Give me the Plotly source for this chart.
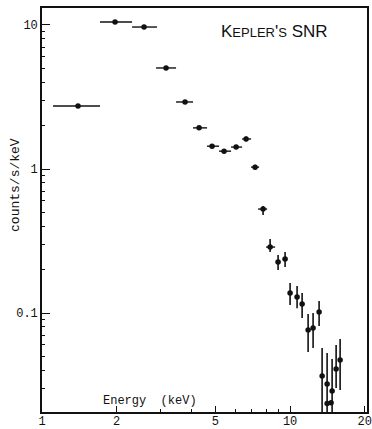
import plotly.graph_objects as go

# ---- data ----
energy = [1.397, 1.970, 2.578, 3.162, 3.772, 4.297, 4.848, 5.418, 6.059, 6.647,
          7.226, 7.783, 8.308, 8.945, 9.546, 10.00, 10.67, 11.18, 11.82, 12.38,
          13.09, 13.46, 14.10, 14.77, 15.33, 15.91, 14.10, 14.63]
energy_lo = [1.108, 1.713, 2.307, 2.882, 3.470, 4.063, 4.627, 5.172, 5.782, 6.405,
             6.963, 7.43, 8.003, 8.75, 9.33, 9.85, 10.50, 11.0, 11.65, 12.2,
             12.9, 13.35, 14.0, 14.65, 15.2, 15.8, 14.0, 14.5]
energy_hi = [1.713, 2.307, 2.909, 3.470, 4.063, 4.627, 5.172, 5.782, 6.405, 6.963,
             7.499, 8.08, 8.70, 9.15, 9.76, 10.15, 10.85, 11.35, 12.0, 12.55,
             13.3, 13.6, 14.2, 14.9, 15.45, 16.05, 14.2, 14.75]
rate = [2.74, 10.5, 9.68, 5.03, 2.92, 1.93, 1.44, 1.33, 1.42, 1.616,
        1.03, 0.527, 0.287, 0.226, 0.237, 0.1377, 0.129, 0.1155, 0.0762, 0.0787,
        0.1016, 0.0365, 0.0321, 0.0287, 0.0408, 0.0472, 0.0235, 0.0238]
rate_lo = [2.74, 10.5, 9.68, 5.03, 2.92, 1.93, 1.40, 1.30, 1.38, 1.56,
           0.99, 0.48, 0.265, 0.199, 0.209, 0.1137, 0.108, 0.0923, 0.0536, 0.0572,
           0.0813, 0.015, 0.015, 0.015, 0.0301, 0.0292, 0.0235, 0.0238]
rate_hi = [2.74, 10.5, 9.68, 5.03, 2.92, 1.93, 1.48, 1.36, 1.46, 1.68,
           1.07, 0.553, 0.326, 0.253, 0.265, 0.1616, 0.154, 0.1377, 0.0984, 0.1,
           0.121, 0.0572, 0.0528, 0.048, 0.06, 0.066, 0.0235, 0.0238]

x_ticks = [1, 2, 5, 10, 20]
x_tick_labels = ["1", "2", "5", "10", "20"]
y_ticks = [0.1, 1, 10]
y_tick_labels = ["0.1", "1", "10"]
x_minor = [3, 4, 6, 7, 8, 9]
y_minor = [m * d for d in (0.01, 0.1, 1) for m in range(2, 10)]

ink = "#111111"
mono = "Liberation Mono, DejaVu Sans Mono, monospace"

fig = go.Figure()
fig.add_trace(go.Scatter(
    x=energy, y=rate, mode="markers",
    marker=dict(color=ink, size=5.5),
    error_x=dict(type="data", symmetric=False,
                 array=[h - v for h, v in zip(energy_hi, energy)],
                 arrayminus=[v - l for v, l in zip(energy, energy_lo)],
                 color=ink, thickness=1.4, width=0),
    error_y=dict(type="data", symmetric=False,
                 array=[h - v for h, v in zip(rate_hi, rate)],
                 arrayminus=[v - l for v, l in zip(rate, rate_lo)],
                 color=ink, thickness=1.6, width=0),
    showlegend=False,
))

axis_common = dict(showgrid=False, zeroline=False, showline=True, linecolor=ink,
                   linewidth=1.6, mirror=True, ticks="inside", tickcolor=ink,
                   tickwidth=1.4, automargin=False,
                   tickfont=dict(family=mono, size=12, color=ink))

fig.update_xaxes(type="log", range=[0, 1.31], tickmode="array",
                 tickvals=x_ticks, ticktext=x_tick_labels, ticklen=6,
                 ticklabelstandoff=-3,
                 minor=dict(tickmode="array", tickvals=x_minor, ticks="inside",
                            ticklen=3, tickcolor=ink, tickwidth=1),
                 **axis_common)
fig.update_yaxes(type="log", range=[-1.6875, 1.118], tickmode="array",
                 tickvals=y_ticks, ticktext=y_tick_labels, ticklen=8,
                 minor=dict(tickmode="array", tickvals=y_minor, ticks="inside",
                            ticklen=3, tickcolor=ink, tickwidth=1),
                 **axis_common)

fig.add_annotation(text="counts/s/keV", textangle=-90, xref="paper", yref="paper",
                   x=0, y=0.562, xshift=-26, xanchor="center", yanchor="middle",
                   showarrow=False, font=dict(family=mono, size=13, color=ink))
fig.add_annotation(text="Energy\u00a0\u00a0(keV)", xref="paper", yref="paper",
                   x=0.332, y=0, yshift=11, xanchor="center", yanchor="middle",
                   showarrow=False, font=dict(family=mono, size=12, color=ink))
fig.add_annotation(
    text="K<span style='font-size:13px'>EPLER</span>'<span style='font-size:13px'>S</span>\u00a0SNR",
    xref="paper", yref="paper", x=0.714, y=0.943, xanchor="center", yanchor="middle",
    showarrow=False,
    font=dict(family="Liberation Sans, DejaVu Sans", size=17, color=ink))

fig.update_layout(width=372, height=429, margin=dict(l=42, r=5, t=8, b=17),
                  paper_bgcolor="white", plot_bgcolor="white")

fig.write_html("out.html", config={"displayModeBar": False},
               post_script="document.body.style.margin='0';")
